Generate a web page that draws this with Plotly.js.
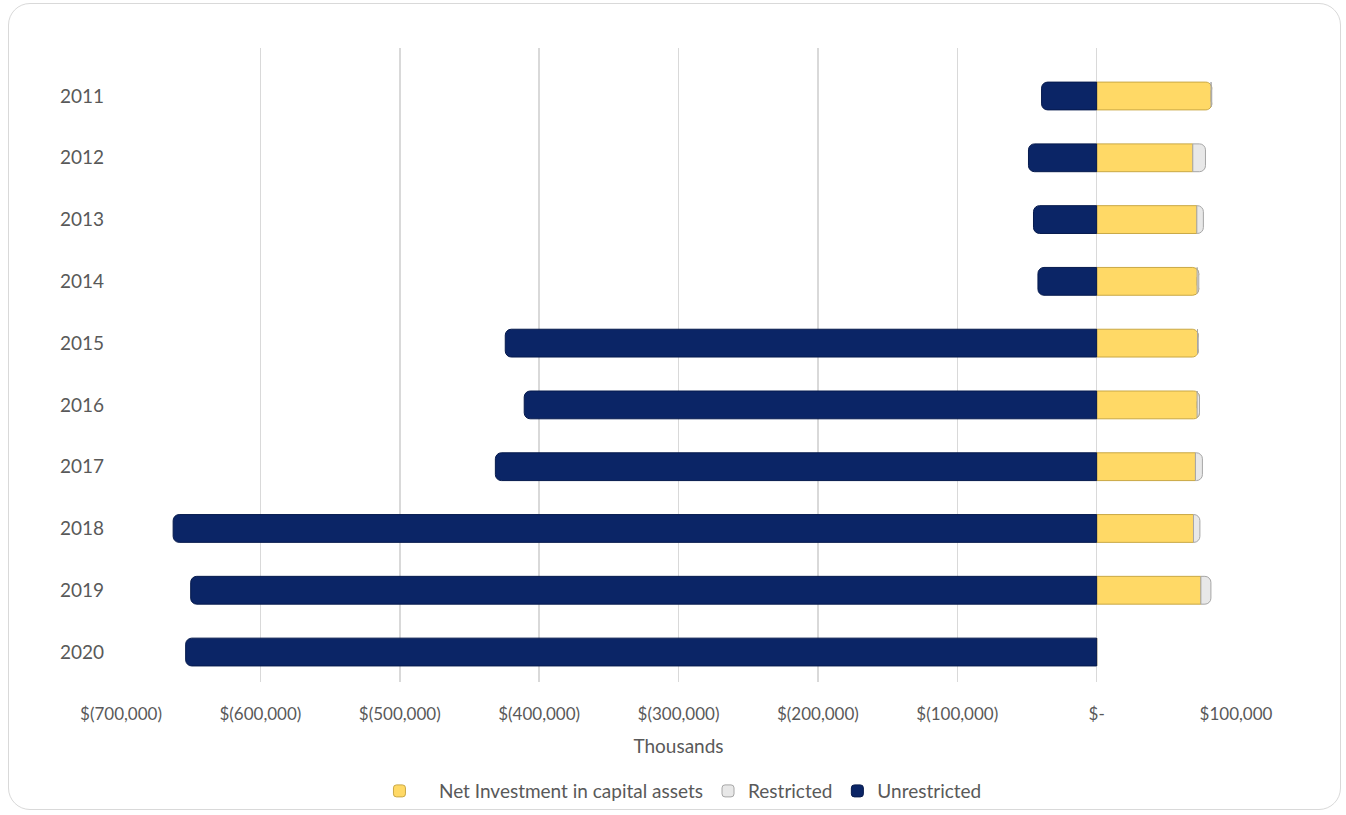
<!DOCTYPE html>
<html>
<head>
<meta charset="utf-8">
<script src="https://cdn.plot.ly/plotly-3.0.1.min.js"></script>
<style>
  html, body { margin: 0; padding: 0; background: #ffffff; }
  #wrap { position: relative; width: 1346px; height: 815px; }
  #chart { position: absolute; left: 0; top: 0; width: 1346px; height: 815px; }
  #frame { position: absolute; left: 8px; top: 3px; width: 1333px; height: 807px;
           border: 1.5px solid #d9d9d9; border-radius: 22px; pointer-events: none; box-sizing: border-box; }
</style>
</head>
<body>
<div id="wrap">
  <div id="chart"></div>
  <div id="frame"></div>
</div>
<script>
// ---- data (thousands of dollars) ----
const years = ["2011", "2012", "2013", "2014", "2015", "2016", "2017", "2018", "2019", "2020"];
const netInvestment = [82100, 69000, 71900, 72100, 72400, 72100, 70900, 69500, 74800, 0];
const restricted    = [500, 9100, 4700, 1200, 500, 1700, 5000, 4600, 7200, 0];
const unrestricted  = [-39500, -48900, -45300, -42100, -424300, -410700, -431400, -662600, -650000, -653600];

const tickValues = [-700000, -600000, -500000, -400000, -300000, -200000, -100000, 0, 100000];
const tickLabels = ["$(700,000)", "$(600,000)", "$(500,000)", "$(400,000)", "$(300,000)", "$(200,000)", "$(100,000)", "$-", "$100,000"];

const seriesNames = ["\u00a0\u00a0\u00a0\u00a0Net Investment in capital assets", "Restricted", "Unrestricted"];

const font = "Lato, 'Open Sans', sans-serif";
const textColor = "#595959";

const traces = [
  {
    type: "bar", orientation: "h", name: seriesNames[0],
    y: years, x: netInvestment,
    marker: { color: "#FFD966", line: { color: "#C9A845", width: 1 } }
  },
  {
    type: "bar", orientation: "h", name: seriesNames[1],
    y: years, x: restricted,
    marker: { color: "#E8E8E8", line: { color: "#A6A6A6", width: 1 } }
  },
  {
    type: "bar", orientation: "h", name: seriesNames[2],
    y: years, x: unrestricted,
    marker: { color: "#0B2566", line: { color: "#061A4D", width: 1 } }
  }
];

const layout = {
  width: 1346, height: 815,
  margin: { l: 121, r: 110, t: 48, b: 133, autoexpand: false },
  paper_bgcolor: "rgba(0,0,0,0)",
  plot_bgcolor: "rgba(0,0,0,0)",
  barmode: "relative",
  bargap: 0.55,
  barcornerradius: 6,
  font: { family: font, size: 18, color: textColor },
  showlegend: true,
  legend: {
    orientation: "h", x: 0.504, xanchor: "center", y: -0.172, yanchor: "middle",
    font: { family: font, size: 19, color: textColor },
    traceorder: "normal", itemwidth: 30
  },
  xaxis: {
    range: [-700000, 100000],
    tickvals: tickValues, ticktext: tickLabels,
    showgrid: true, gridcolor: "#D9D9D9", gridwidth: 1.5,
    zeroline: true, zerolinecolor: "#D9D9D9", zerolinewidth: 1.5,
    showline: false, ticks: "",
    ticklabelstandoff: 20,
    tickfont: { family: font, size: 17, color: textColor },
    title: { text: "Thousands", font: { family: font, size: 19, color: textColor }, standoff: 16 },
    automargin: false,
    fixedrange: true
  },
  yaxis: {
    type: "category",
    categoryorder: "array", categoryarray: years,
    range: [9.485, -0.777],
    showgrid: false, zeroline: false, showline: false, ticks: "",
    ticklabelstandoff: 16,
    tickfont: { family: font, size: 19, color: textColor },
    automargin: false,
    fixedrange: true
  }
};

Plotly.newPlot("chart", traces, layout, { displayModeBar: false, staticPlot: true });
</script>
</body>
</html>
